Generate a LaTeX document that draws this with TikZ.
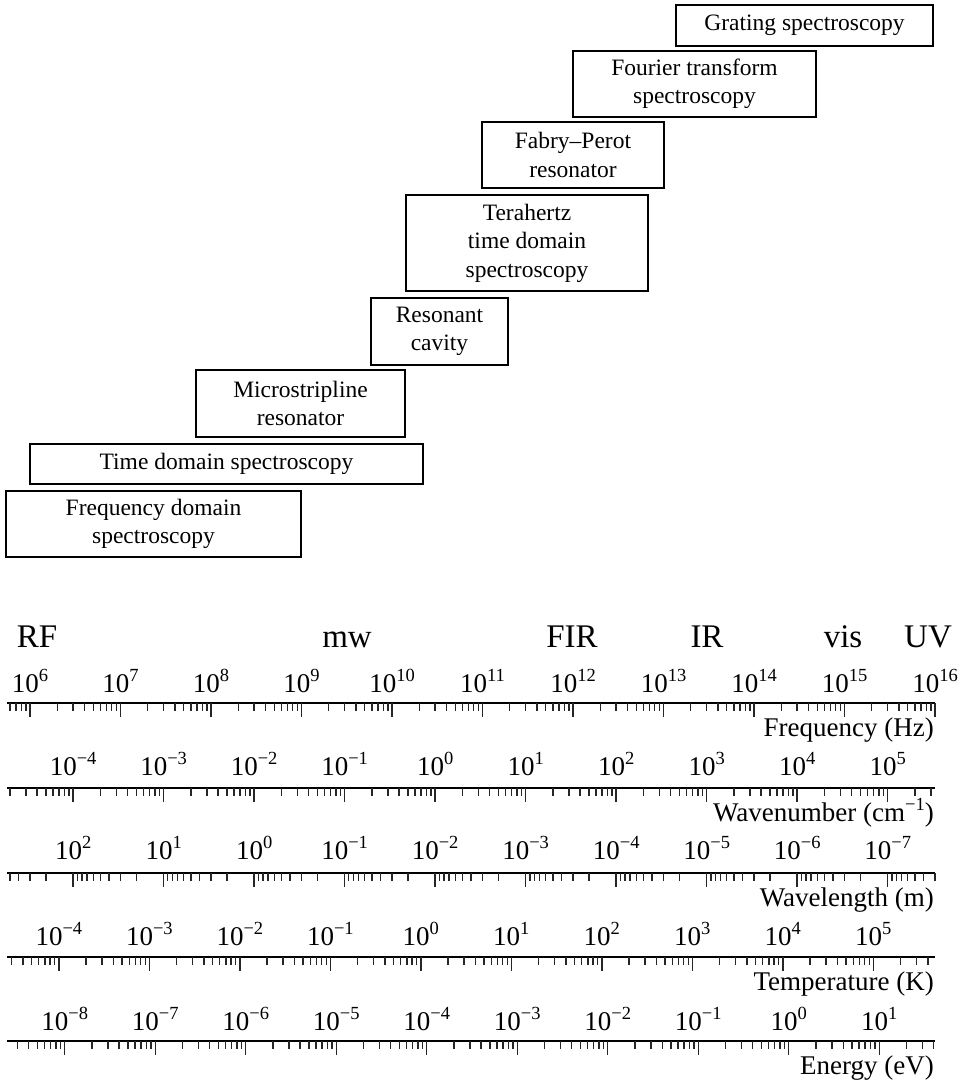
\documentclass[tikz,border=0pt]{standalone}
\usepackage{fontspec}
\setmainfont{Liberation Serif}
\newcommand\boxfont{\fontsize{23.5}{28.5}\selectfont}
\newcommand\numfont{\fontsize{27}{32}\selectfont}
\newcommand\bandfont{\fontsize{33}{38}\selectfont}
\newcommand\sups[1]{\raisebox{11pt}{\fontsize{18.5}{20}\selectfont #1}}
\tikzset{
  box/.style={draw=black, line width=1.8pt, inner sep=0pt, align=center, font=\boxfont},
  axisline/.style={line width=2pt, black},
  tickmark/.style={line width=1.4pt, black!85},
  bandlbl/.style={font=\bandfont, anchor=base, inner sep=0pt},
  numlbl/.style={font=\numfont, anchor=base, inner sep=0pt},
  axtitle/.style={font=\numfont, anchor=base east, inner sep=0pt},
}
% #1 name, #2 y, #3 logK, #4 sign, #5 nmin, #6 nmax, #7 label offset
\newcommand\logaxis[7]{%
  \coordinate (#1L) at (7,#2);
  \coordinate (#1R) at (935,#2);
  \draw[axisline] (#1L) -- (#1R);
  \foreach \n in {#5,...,#6}{
    \foreach \m in {1,...,9}{
      \pgfmathsetmacro\xx{30+((#4)*(\n+log10(\m))+#3-6)*90.5}
      \pgfmathtruncatemacro\ok{and(\xx>=6.5,\xx<=935.5)}
      \ifnum\ok=1
        \ifnum\m=1
          \draw[tickmark] (\xx,#2) -- ++(0,14);
          \node[numlbl] (#1\n) at (\xx,#2-#7) {10\sups{\ifnum\n<0 −\number-\n\else\n\fi}};
        \else
          \draw[tickmark] (\xx,#2) -- ++(0,7.5);
        \fi
      \fi
    }
  }
}
\begin{document}
\begin{tikzpicture}[x=1pt,y=-1pt]
\useasboundingbox (0,0) rectangle (968,1084);
% method boxes
\node[box, minimum width=257, minimum height=41] (grating) at (804.5,25.5) {Grating spectroscopy};
\node[box, minimum width=243, minimum height=66] (fourier) at (694.5,84) {Fourier transform\\spectroscopy};
\node[box, minimum width=182, minimum height=66] (fabry) at (573,155) {Fabry–Perot\\resonator};
\node[box, minimum width=242, minimum height=96] (thz) at (527,243) {Terahertz\\time domain\\spectroscopy};
\node[box, minimum width=137, minimum height=67] (cavity) at (439.5,331.5) {Resonant\\cavity};
\node[box, minimum width=209, minimum height=67] (micro) at (300.5,403.5) {Microstripline\\resonator};
\node[box, minimum width=393, minimum height=40] (tds) at (226.5,464) {Time domain spectroscopy};
\node[box, minimum width=295, minimum height=66] (fds) at (153.5,524) {Frequency domain\\spectroscopy};
% band labels
\node[bandlbl] (rf) at (37,647) {RF};
\node[bandlbl] (mw) at (347,647) {mw};
\node[bandlbl] (fir) at (572,647) {FIR};
\node[bandlbl] (ir) at (707,647) {IR};
\node[bandlbl] (vis) at (843,647) {vis};
\node[bandlbl] (uv) at (928,647) {UV};
% axes
\logaxis{fq}{703}{0}{1}{5}{16}{11}
\node[axtitle] (fqt) at (934,736) {Frequency (Hz)};
\logaxis{wn}{788}{10.4768}{1}{-5}{5}{13}
\node[axtitle] (wnt) at (934,821) {Wavenumber (cm\sups{−1})};
\logaxis{wl}{873}{8.4768}{-1}{-8}{2}{14}
\node[axtitle] (wlt) at (934,906) {Wavelength (m)};
\logaxis{tk}{957}{10.3188}{1}{-5}{5}{12}
\node[axtitle] (tkt) at (934,990) {Temperature (K)};
\logaxis{en}{1041}{14.3835}{1}{-9}{1}{11}
\node[axtitle] (ent) at (934,1074) {Energy (eV)};
\end{tikzpicture}
\end{document}
